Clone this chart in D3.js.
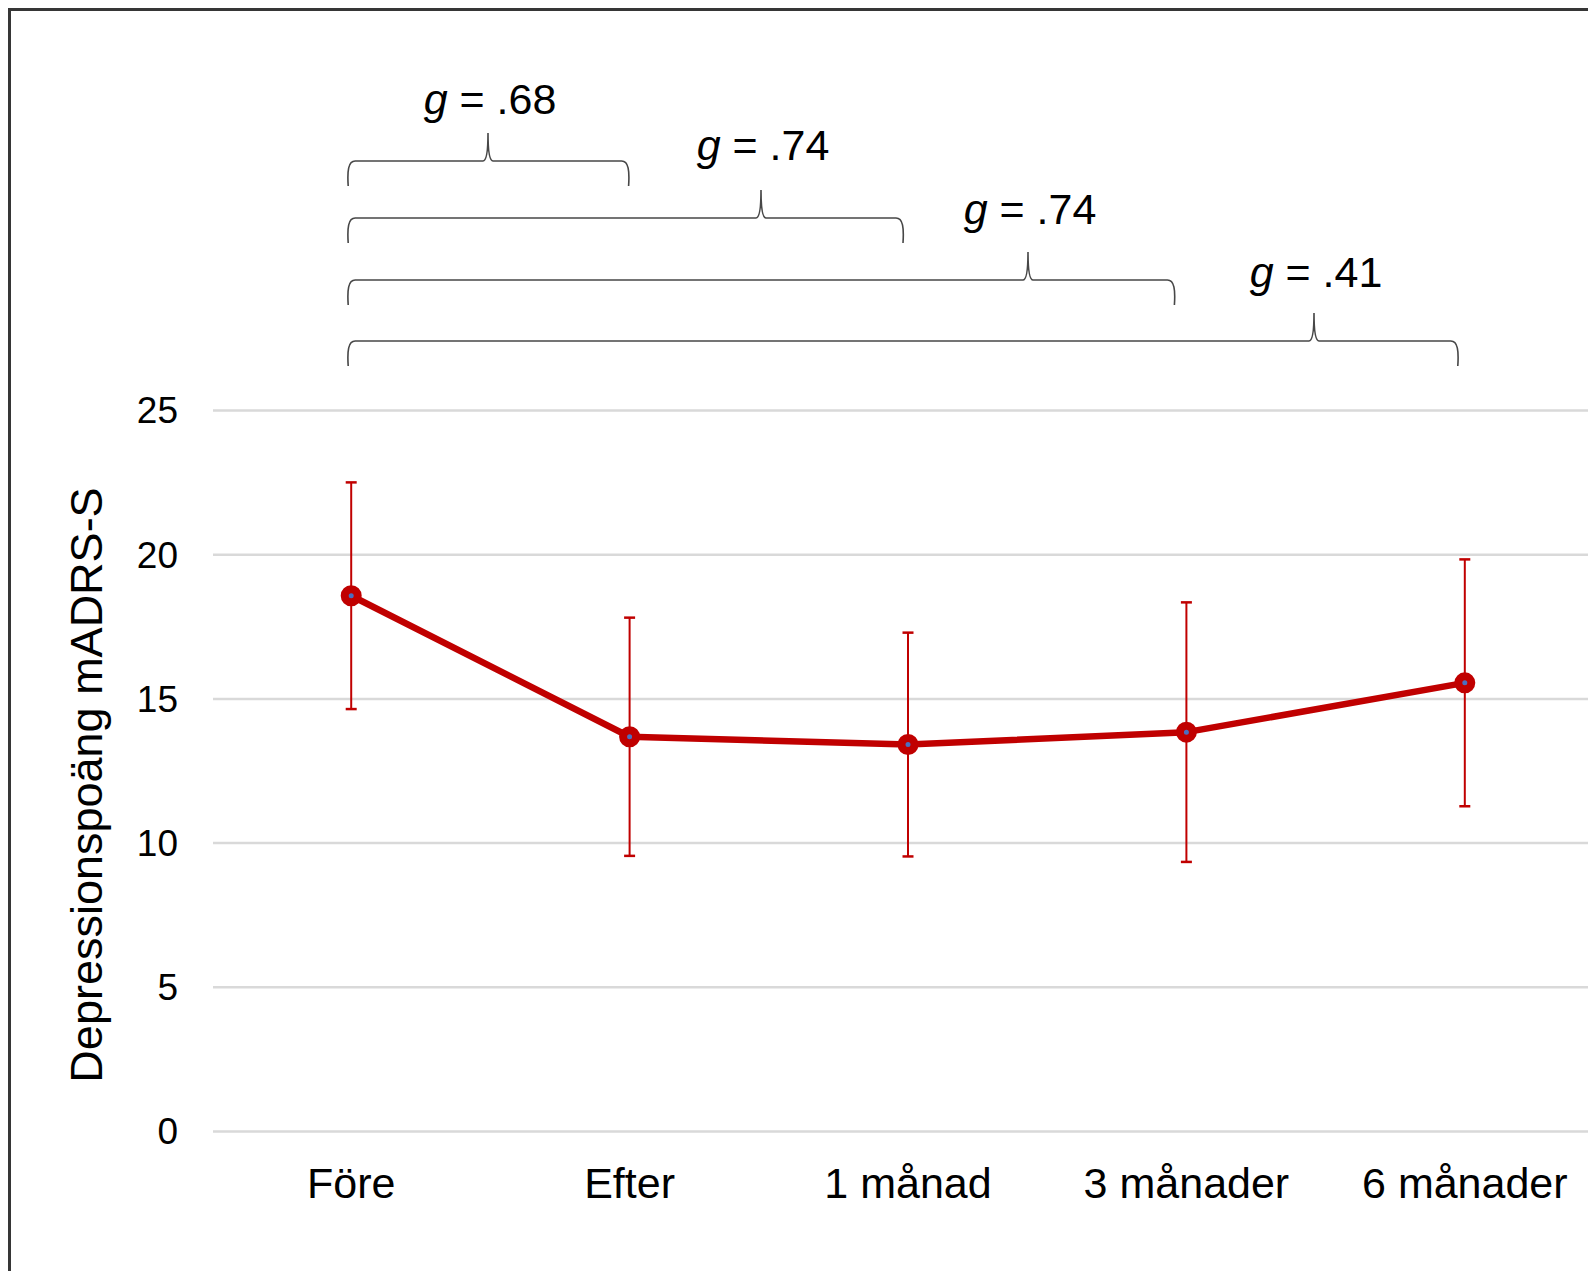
<!DOCTYPE html>
<html>
<head>
<meta charset="utf-8">
<script src="https://cdn.jsdelivr.net/npm/d3@7"></script>
<style>
  body { margin: 0; background: #fff; }
  svg { display: block; font-family: "Liberation Sans", Arial, Helvetica, sans-serif; }
</style>
</head>
<body>
<div id="chart"></div>
<script>
// data
const categories = ["Före", "Efter", "1 månad", "3 månader", "6 månader"];
const means = [18.56, 13.67, 13.40, 13.83, 15.54];
const errors = [3.93, 4.13, 3.88, 4.50, 4.28];
const yTicks = [0, 5, 10, 15, 20, 25];
const yTitle = "Depressionspoäng mADRS-S";

// effect sizes, each one compares "Före" with a later point
const effectTargets = ["Efter", "1 månad", "3 månader", "6 månader"];
const effectLabels = [".68", ".74", ".74", ".41"];

// where the braces sit (layout only)
const braceLineY = [161, 218, 280, 341];
const braceTipX = [488, 761, 1028, 1314];
const braceLabelY = [114, 160, 224, 287];
const braceRightNudge = [-1, -5, -12, -7];

const width = 1588, height = 1271;
const red = "#c00000";

const svg = d3.select("#chart").append("svg")
  .attr("width", width)
  .attr("height", height);

svg.append("rect")
  .attr("width", width).attr("height", height)
  .attr("fill", "#fff");

// outer frame, cut off at right and bottom like in the picture
svg.append("rect")
  .attr("x", 9.5).attr("y", 9.5)
  .attr("width", width + 20).attr("height", height + 20)
  .attr("fill", "none")
  .attr("stroke", "#363636")
  .attr("stroke-width", 3);

let x = d3.scaleBand()
  .domain(categories)
  .range([212, 1604]);

let y = d3.scaleLinear()
  .domain([0, 25])
  .range([1131, 410]);

let cx = d => x(d) + x.bandwidth() / 2;

// gridlines + y labels
let yAxis = d3.axisLeft(y)
  .tickValues(yTicks)
  .tickSize(-(1604 - 213))
  .tickPadding(35)
  .tickFormat(d3.format("d"));

let gy = svg.append("g")
  .attr("transform", "translate(213,0)")
  .call(yAxis);
gy.select(".domain").remove();
gy.selectAll(".tick line")
  .attr("stroke", "#d9d9d9")
  .attr("stroke-width", 2.5);
gy.selectAll(".tick text")
  .attr("font-size", 37)
  .attr("fill", "#000")
  .attr("font-family", "'Liberation Sans', Arial, sans-serif")
  .attr("dy", "0.35em");

// x labels
let xAxis = d3.axisBottom(x).tickSize(0).tickPadding(0);
let gx = svg.append("g")
  .attr("transform", "translate(0,1131)")
  .call(xAxis);
gx.select(".domain").remove();
gx.selectAll(".tick text")
  .attr("font-size", 43)
  .attr("fill", "#000")
  .attr("font-family", "'Liberation Sans', Arial, sans-serif")
  .attr("y", 67)
  .attr("dy", 0);

// y title
svg.append("text")
  .attr("transform", "translate(102,785) rotate(-90)")
  .attr("text-anchor", "middle")
  .attr("font-size", 45)
  .attr("fill", "#000")
  .text(yTitle);

// error bars
let bars = svg.append("g").selectAll("g")
  .data(categories)
  .enter().append("g");

bars.append("line")
  .attr("x1", d => cx(d)).attr("x2", d => cx(d))
  .attr("y1", (d, i) => y(means[i] + errors[i]))
  .attr("y2", (d, i) => y(means[i] - errors[i]))
  .attr("stroke", red)
  .attr("stroke-width", 2);

[1, -1].forEach(function(sign) {
  bars.append("line")
    .attr("x1", d => cx(d) - 5.5).attr("x2", d => cx(d) + 5.5)
    .attr("y1", (d, i) => y(means[i] + sign * errors[i]))
    .attr("y2", (d, i) => y(means[i] + sign * errors[i]))
    .attr("stroke", red)
    .attr("stroke-width", 2.5);
});

// mean line
let line = d3.line()
  .x((d, i) => cx(categories[i]))
  .y(d => y(d));

svg.append("path")
  .datum(means)
  .attr("d", line)
  .attr("fill", "none")
  .attr("stroke", red)
  .attr("stroke-width", 6.5)
  .attr("stroke-linejoin", "round");

svg.append("g").selectAll("circle")
  .data(means)
  .enter().append("circle")
  .attr("cx", (d, i) => cx(categories[i]))
  .attr("cy", d => y(d))
  .attr("r", 6.5)
  .attr("fill", "#4a6fc0")
  .attr("stroke", red)
  .attr("stroke-width", 8);

// braces with effect sizes
let braces = svg.append("g");
effectTargets.forEach(function(t, i) {
  let xl = cx(categories[0]) - 3;
  let xr = cx(t) + braceRightNudge[i];
  let ly = braceLineY[i];
  let tx = braceTipX[i];
  let drop = 25, rise = 28, r = 7;
  let p = d3.path();
  p.moveTo(xl, ly + drop);
  p.bezierCurveTo(xl - 1, ly + 10, xl, ly, xl + r, ly);
  p.lineTo(tx - 5, ly);
  p.quadraticCurveTo(tx, ly, tx, ly - rise);
  p.quadraticCurveTo(tx, ly, tx + 5, ly);
  p.lineTo(xr - r, ly);
  p.bezierCurveTo(xr, ly, xr + 1, ly + 10, xr, ly + drop);
  braces.append("path")
    .attr("d", p.toString())
    .attr("fill", "none")
    .attr("stroke", "#474747")
    .attr("stroke-width", 1.6);

  let lab = braces.append("text")
    .attr("x", tx + 2)
    .attr("y", braceLabelY[i])
    .attr("text-anchor", "middle")
    .attr("font-size", 43)
    .attr("fill", "#000");
  lab.append("tspan").attr("font-style", "italic").text("g");
  lab.append("tspan").text(" = " + effectLabels[i]);
});
</script>
</body>
</html>
